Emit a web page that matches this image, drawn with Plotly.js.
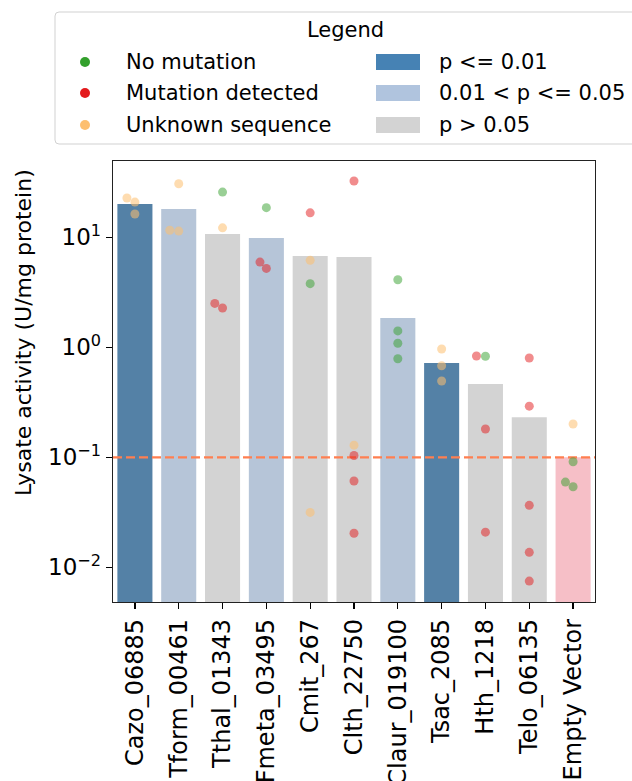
<!DOCTYPE html>
<html>
<head>
<meta charset="utf-8">
<script src="https://cdn.plot.ly/plotly-3.0.1.min.js"></script>
<style>html,body{margin:0;padding:0;background:#fff;}#chart{width:632px;height:781px;}</style>
</head>
<body>
<div id="chart"></div>
<script>
// ---- data ----
const categories = ["Cazo_06885","Tform_00461","Tthal_01343","Fmeta_03495","Cmit_267","Clth_22750","Claur_019100","Tsac_2085","Hth_1218","Telo_06135","Empty Vector"];
const meanActivity = [20.1, 18.1, 10.7, 9.86, 6.77, 6.63, 1.85, 0.72, 0.464, 0.232, 0.1];
const pClass = ["p<=0.01","0.01<p<=0.05","p>0.05","0.01<p<=0.05","p>0.05","p>0.05","0.01<p<=0.05","p<=0.01","p>0.05","p>0.05","control"];

const noMutCat = ["Tthal_01343","Fmeta_03495","Cmit_267","Claur_019100","Claur_019100","Claur_019100","Claur_019100","Hth_1218","Empty Vector","Empty Vector","Empty Vector"];
const noMutVal = [25.8, 18.6, 3.79, 4.12, 1.41, 1.09, 0.787, 0.83, 0.0912, 0.0596, 0.054];

const mutCat = ["Tthal_01343","Tthal_01343","Fmeta_03495","Fmeta_03495","Cmit_267","Clth_22750","Clth_22750","Clth_22750","Clth_22750","Hth_1218","Hth_1218","Hth_1218","Telo_06135","Telo_06135","Telo_06135","Telo_06135","Telo_06135"];
const mutVal = [2.51, 2.28, 5.96, 5.22, 16.7, 32.5, 0.104, 0.061, 0.0204, 0.834, 0.181, 0.0209, 0.8, 0.292, 0.0366, 0.0137, 0.0075];

const unkCat = ["Cazo_06885","Cazo_06885","Cazo_06885","Tform_00461","Tform_00461","Tform_00461","Tthal_01343","Cmit_267","Cmit_267","Clth_22750","Tsac_2085","Tsac_2085","Tsac_2085","Empty Vector"];
const unkVal = [22.8, 20.9, 16.3, 30.7, 11.6, 11.4, 12.2, 6.18, 0.0316, 0.129, 0.966, 0.681, 0.494, 0.201];

const threshold = 0.1;
const yTickVals = [0.01, 0.1, 1, 10];
const yTickText = ["10<sup>\u22122</sup>", "10<sup>\u22121</sup>", "10<sup>0</sup>", "10<sup>1</sup>"];
const yTitle = "Lysate activity (U/mg protein)";
const legendTitle = "Legend";
const statusLabels = ["No mutation", "Mutation detected", "Unknown sequence"];
const pLabels = ["p <= 0.01", "0.01 < p <= 0.05", "p > 0.05"];

// ---- styles / layout geometry ----
const W = 632, H = 781;
const M = {l: 113, r: 37, t: 161, b: 179};
const plotW = W - M.l - M.r, plotH = H - M.t - M.b;
const yRange = [-2.315, 1.694];
const xRange = [-0.5, categories.length - 0.5];
const FONT = "DejaVu Sans, Liberation Sans, sans-serif";
const barColors = {"p<=0.01": "#5481a6", "0.01<p<=0.05": "#b6c5d8", "p>0.05": "#d3d3d3", "control": "#f6bfc7"};
const legendSwatch = ["#4682b4", "#b0c4de", "#d3d3d3"];
const statusSolid = ["#33a02c", "#e31a1c", "#fdbf6f"];
const statusAlpha = ["rgba(51,160,44,0.5)", "rgba(227,26,28,0.5)", "rgba(253,191,111,0.55)"];
const dotPx = 9;

// ---- swarm placement (computed in pixel space) ----
const pxPerDecade = plotH / (yRange[1] - yRange[0]);
const pxPerCat = plotW / categories.length;
const groups = [[noMutCat, noMutVal], [mutCat, mutVal], [unkCat, unkVal]];
const xs = groups.map(g => new Array(g[0].length).fill(0));
categories.forEach((c, ci) => {
  const pts = [];
  groups.forEach((g, gi) => g[0].forEach((cc, i) => { if (cc === c) pts.push({gi, i, y: Math.log10(g[1][i]) * pxPerDecade}); }));
  pts.sort((a, b) => a.y - b.y);
  const placed = [];
  pts.forEach(p => {
    const cands = [0];
    placed.forEach(q => {
      const dy = Math.abs(p.y - q.y);
      if (dy < dotPx) { const dx = Math.sqrt(dotPx * dotPx - dy * dy); cands.push(q.x - dx, q.x + dx); }
    });
    cands.sort((a, b) => Math.abs(a) - Math.abs(b) || a - b);
    let chosen = cands[0];
    for (const x of cands) {
      if (placed.every(q => Math.hypot(x - q.x, p.y - q.y) >= dotPx - 0.01)) { chosen = x; break; }
    }
    p.x = chosen; placed.push(p);
    xs[p.gi][p.i] = ci + chosen / pxPerCat;
  });
});

// ---- traces ----
const traces = [];
traces.push({
  type: "bar",
  x: categories.map((c, i) => i),
  y: meanActivity,
  width: 0.8,
  marker: {color: pClass.map(k => barColors[k]), line: {width: 0}},
  showlegend: false, hoverinfo: "y"
});
// detection threshold across the full axis width
traces.push({
  type: "scatter", mode: "lines",
  x: xRange, y: [threshold, threshold],
  line: {color: "#ff7f50", width: 2.2, dash: "9px,4px"},
  showlegend: false, hoverinfo: "skip"
});
groups.forEach((g, gi) => {
  traces.push({
    type: "scatter", mode: "markers",
    x: xs[gi], y: g[1],
    name: statusLabels[gi],
    marker: {size: dotPx, color: statusAlpha[gi], line: {width: 0}},
    showlegend: false
  });
});

// ---- manual legend (matplotlib-style box above the axes) ----
const px = x => (x - M.l) / plotW;
const py = y => (H - M.b - y) / plotH;
const shapes = [];
const annotations = [];
(function(){
  const x0 = px(55), x1 = px(645), y0 = py(144), y1 = py(12);
  const rx = 4 / plotW, ry = 4 / plotH;
  shapes.push({type: "path", xref: "paper", yref: "paper",
    path: `M ${x0 + rx},${y1} L ${x1},${y1} L ${x1},${y0} L ${x0 + rx},${y0} Q ${x0},${y0} ${x0},${y0 + ry} L ${x0},${y1 - ry} Q ${x0},${y1} ${x0 + rx},${y1} Z`,
    line: {color: "rgba(204,204,204,0.9)", width: 1}, fillcolor: "rgba(255,255,255,0.8)", layer: "above"});
})();
annotations.push({xref: "paper", yref: "paper", x: px(345), y: py(30), text: legendTitle, showarrow: false,
  xanchor: "center", yanchor: "middle", font: {family: FONT, size: 21, color: "#000"}});
const rowsY = [62, 93, 125];
rowsY.forEach((ry, k) => {
  const r = 5;
  shapes.push({type: "circle", xref: "paper", yref: "paper", x0: px(85 - r), x1: px(85 + r), y0: py(ry + r), y1: py(ry - r),
    fillcolor: statusSolid[k], line: {width: 0}, layer: "above"});
  annotations.push({xref: "paper", yref: "paper", x: px(124), y: py(ry), text: statusLabels[k], showarrow: false,
    xanchor: "left", yanchor: "middle", font: {family: FONT, size: 21, color: "#000"}});
  shapes.push({type: "rect", xref: "paper", yref: "paper", x0: px(376), x1: px(420), y0: py(ry + 8), y1: py(ry - 8),
    fillcolor: legendSwatch[k], line: {width: 0}, layer: "above"});
  annotations.push({xref: "paper", yref: "paper", x: px(437), y: py(ry), text: pLabels[k], showarrow: false,
    xanchor: "left", yanchor: "middle", font: {family: FONT, size: 21, color: "#000"}});
});
annotations.push({xref: "paper", yref: "paper", x: px(23), y: py(333), text: yTitle, textangle: -90, showarrow: false,
  xanchor: "center", yanchor: "middle", font: {family: FONT, size: 22, color: "#000"}});

const layout = {
  width: W, height: H,
  margin: M,
  paper_bgcolor: "#fff", plot_bgcolor: "#fff",
  font: {family: FONT, color: "#000"},
  showlegend: false,
  barmode: "overlay",
  xaxis: {
    type: "linear", range: xRange,
    tickmode: "array", tickvals: categories.map((c, i) => i), ticktext: categories,
    tickangle: -90, tickfont: {family: FONT, size: 24, color: "#000"},
    ticks: "outside", ticklen: 6, tickwidth: 1.2, tickcolor: "#000",
    showline: true, linecolor: "#222", linewidth: 1.3, mirror: true,
    showgrid: false, zeroline: false, automargin: false, fixedrange: true
  },
  yaxis: {
    type: "log", range: yRange,
    tickmode: "array", tickvals: yTickVals, ticktext: yTickText,
    tickfont: {family: FONT, size: 23, color: "#000"},
    ticks: "outside", ticklen: 6, tickwidth: 1.2, tickcolor: "#000",
    showline: true, linecolor: "#222", linewidth: 1.3, mirror: true,
    showgrid: false, zeroline: false, automargin: false, fixedrange: true
  },
  shapes: shapes,
  annotations: annotations
};

Plotly.newPlot("chart", traces, layout, {staticPlot: true, displayModeBar: false});
</script>
</body>
</html>
